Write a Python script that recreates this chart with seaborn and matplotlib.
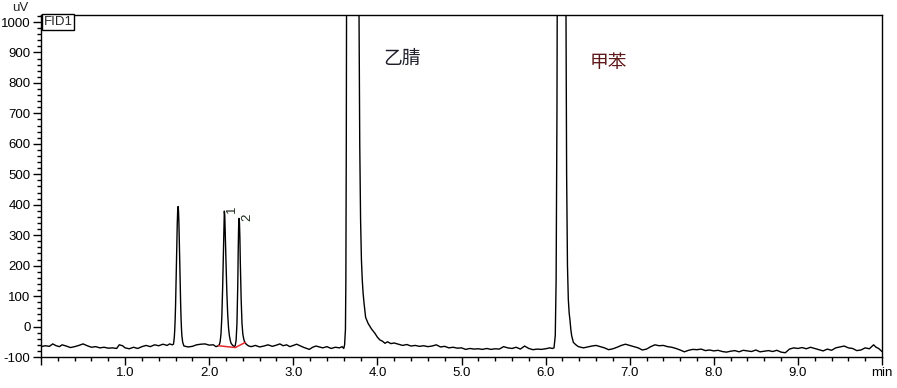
import numpy as np
import pandas as pd
import matplotlib
matplotlib.use("Agg")
import matplotlib.pyplot as plt
import seaborn as sns
from matplotlib.ticker import MultipleLocator, FixedLocator

# ---------------- data ----------------
# retention time (min) and detector signal (uV), chromatogram trace
trace_time = [
    0.00, 0.05, 0.10, 0.14, 0.18, 0.22, 0.25, 0.30, 0.35, 0.40, 0.45, 0.50, 0.55, 0.60,
    0.65, 0.70, 0.75, 0.80, 0.85, 0.90, 0.93, 0.97, 1.00, 1.05, 1.10, 1.15, 1.20, 1.25,
    1.30, 1.35, 1.40, 1.45, 1.50, 1.53, 1.56,
    1.575, 1.58, 1.585, 1.59, 1.595, 1.60, 1.605, 1.61, 1.615, 1.62, 1.625, 1.63, 1.635,
    1.64, 1.645, 1.65, 1.655, 1.66, 1.665, 1.67, 1.675, 1.685,
    1.70, 1.75, 1.80, 1.85, 1.90, 1.95, 2.00, 2.05, 2.08, 2.10,
    2.12, 2.13, 2.14, 2.15, 2.16, 2.17, 2.175, 2.18, 2.185, 2.19, 2.20, 2.21, 2.22, 2.23,
    2.24, 2.25, 2.26, 2.28, 2.30,
    2.31, 2.32, 2.33, 2.34, 2.345, 2.35, 2.355, 2.36, 2.365, 2.37, 2.38, 2.39, 2.40, 2.41,
    2.42, 2.44, 2.47,
    2.50, 2.55, 2.60, 2.65, 2.70, 2.75, 2.80, 2.84, 2.88, 2.92, 2.96, 3.00, 3.04, 3.08,
    3.12, 3.16, 3.19, 3.23, 3.27, 3.31, 3.35, 3.40, 3.45, 3.50, 3.55, 3.58, 3.60,
    3.61, 3.62, 3.625, 3.63, 3.635, 3.64, 3.66, 3.70, 3.74, 3.76, 3.77, 3.78, 3.79, 3.80,
    3.81, 3.82, 3.83, 3.84, 3.86, 3.89, 3.93, 3.97, 4.00, 4.03, 4.06, 4.09, 4.12, 4.16,
    4.20, 4.25, 4.30, 4.35, 4.40, 4.45, 4.50, 4.55, 4.60, 4.65, 4.70, 4.75, 4.80, 4.85,
    4.90, 4.95, 5.00, 5.05, 5.10, 5.15, 5.20, 5.25, 5.30, 5.35, 5.40, 5.45, 5.50, 5.55,
    5.60, 5.65, 5.70, 5.75, 5.80, 5.85, 5.90, 5.95, 6.00, 6.05, 6.08,
    6.10, 6.115, 6.125, 6.135, 6.145, 6.16, 6.20, 6.23, 6.24, 6.25, 6.26, 6.27, 6.28, 6.29,
    6.30, 6.31, 6.33, 6.36, 6.39,
    6.45, 6.50, 6.55, 6.60, 6.65, 6.70, 6.75, 6.80, 6.85, 6.90, 6.95, 7.00, 7.05, 7.10,
    7.15, 7.20, 7.25, 7.30, 7.35, 7.40, 7.45, 7.50, 7.55, 7.60, 7.65, 7.70, 7.75, 7.80,
    7.85, 7.90, 7.95, 8.00, 8.05, 8.10, 8.15, 8.20, 8.25, 8.30, 8.35, 8.40, 8.45, 8.50,
    8.55, 8.60, 8.65, 8.70, 8.75, 8.80, 8.85, 8.90, 8.95, 9.00, 9.05, 9.10, 9.15, 9.20,
    9.25, 9.30, 9.35, 9.40, 9.45, 9.50, 9.55, 9.60, 9.65, 9.70, 9.75, 9.80, 9.85, 9.90,
    9.93, 9.96, 10.00,
]
trace_uV = [
    -66, -63, -65, -57, -63, -66, -60, -64, -69, -66, -62, -57, -63, -68,
    -66, -70, -68, -71, -70, -72, -60, -63, -70, -73, -68, -72, -66, -62,
    -66, -60, -63, -58, -62, -57, -60,
    -58, -48, -35, -12, 21, 69, 130, 200, 271, 335, 379, 394, 380,
    338, 278, 210, 140, 80, 30, -5, -30, -52,
    -64, -67, -65, -60, -58, -57, -61, -60, -66, -64,
    -60, -50, -25, 30, 130, 260, 340, 379, 365, 310, 210, 110, 40, -5,
    -30, -45, -55, -62, -66,
    -62, -45, 10, 140, 250, 330, 355, 340, 290, 210, 90, 10, -25, -40,
    -50, -58, -64,
    -66, -62, -67, -64, -60, -65, -61, -57, -63, -60, -66, -62, -58, -63,
    -68, -72, -75, -68, -64, -67, -70, -66, -72, -68, -70, -66, -72,
    -60, -10, 150, 600, 1300, 2500, 6000, 8000, 6000, 3000, 1800, 1100, 600, 350,
    220, 153, 110, 80, 30, 10, -8, -22, -35, -44, -48, -55, -50, -56,
    -54, -58, -62, -59, -64, -62, -65, -63, -66, -64, -60, -67, -65, -70,
    -68, -71, -70, -75, -72, -74, -73, -75, -72, -75, -73, -74, -66, -70,
    -72, -68, -74, -64, -72, -76, -74, -75, -73, -70, -72,
    -70, -30, 150, 700, 1800, 5000, 5000, 2500, 1200, 500, 200, 90, 45, 21,
    -10, -30, -52, -60, -66,
    -70, -67, -64, -62, -66, -70, -76, -73, -68, -62, -58, -62, -66, -70,
    -77, -74, -66, -60, -63, -62, -66, -68, -72, -77, -83, -78, -75, -76,
    -74, -79, -77, -80, -78, -82, -84, -81, -79, -83, -78, -80, -82, -77,
    -83, -81, -79, -82, -78, -84, -86, -74, -70, -72, -69, -73, -68, -72,
    -76, -80, -74, -78, -70, -67, -64, -70, -72, -79, -77, -70, -73, -60,
    -68, -72, -82,
]

# integration baseline drawn under peaks 1 and 2
intbase_time = [2.11, 2.31, 2.43]
intbase_uV = [-63, -69, -52]

# peak labels
peak_names = ["1", "2"]
peak_label_time = [2.27, 2.45]
peak_label_uV = [385, 358]

# compound names
compound_names = ["乙腈", "甲苯"]
compound_time = [4.29, 6.75]
compound_uV = [880, 868]
compound_colors = ["#1e1e2a", "#5e1a1a"]

x_ticks = [0, 1, 2, 3, 4, 5, 6, 7, 8, 9, 10]
x_tick_labels = ["", "1.0", "2.0", "3.0", "4.0", "5.0", "6.0", "7.0", "8.0", "9.0", "min"]
y_ticks = [-100, 0, 100, 200, 300, 400, 500, 600, 700, 800, 900, 1000]

# ---------------- plotting ----------------
sns.set_theme(style="ticks")
plt.rcParams["font.family"] = ["Liberation Sans", "DejaVu Sans"]

fig = plt.figure(figsize=(8.97, 3.88), dpi=100)
ax = fig.add_axes([41 / 897, 1 - 357 / 388, (882 - 41) / 897, (357 - 15) / 388])

df = pd.DataFrame({"time": trace_time, "uV": trace_uV})
sns.lineplot(data=df, x="time", y="uV", ax=ax, color="black", linewidth=1.0,
             estimator=None, sort=False)

base_df = pd.DataFrame({"time": intbase_time, "uV": intbase_uV})
sns.lineplot(data=base_df, x="time", y="uV", ax=ax, color="#e8262a", linewidth=1.1,
             estimator=None, sort=False)

ax.set_xlim(0, 10)
ax.set_ylim(-100, 1023)
ax.set_xlabel("")
ax.set_ylabel("")

ax.xaxis.set_major_locator(FixedLocator(x_ticks))
ax.set_xticklabels(x_tick_labels)
ax.xaxis.set_minor_locator(MultipleLocator(0.2))
ax.yaxis.set_major_locator(FixedLocator(y_ticks))
ax.set_yticklabels([str(v) for v in y_ticks])
ax.yaxis.set_minor_locator(MultipleLocator(20))

ax.tick_params(axis="both", which="major", direction="out", length=5.5, width=1.0,
               labelsize=9.5, colors="black", pad=2)
ax.tick_params(axis="both", which="minor", direction="out", length=3.2, width=1.0,
               colors="black")
for sp in ax.spines.values():
    sp.set_visible(True)
    sp.set_color("black")
    sp.set_linewidth(1.0)

for name, t, v in zip(peak_names, peak_label_time, peak_label_uV):
    ax.text(t, v, name, rotation=90, fontsize=9.5, ha="center", va="center",
            color="#1a2a1a")

for name, t, v, c in zip(compound_names, compound_time, compound_uV, compound_colors):
    ax.text(t, v, name, fontsize=13.5, ha="center", va="center", color=c,
            family=["Noto Sans CJK SC", "DejaVu Sans"])

ax.text(0.003, 0.997, "FID1", transform=ax.transAxes, fontsize=9.5, ha="left", va="top",
        bbox=dict(boxstyle="square,pad=0.12", facecolor="white", edgecolor="black",
                  linewidth=1.0))

fig.text(12 / 897, 1 - 8 / 388, "uV", fontsize=9.5, ha="left", va="center")

fig.savefig("out.png", dpi=100)
